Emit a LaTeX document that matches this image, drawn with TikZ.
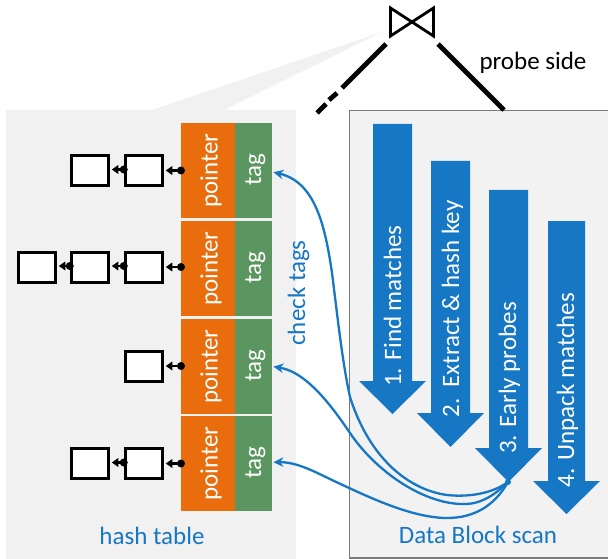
\documentclass[tikz,border=0pt]{standalone}
\usepackage{fontspec}
\setmainfont{Carlito}
\usetikzlibrary{arrows.meta}
\definecolor{panelgrey}{HTML}{F1F1F1}
\definecolor{scangrey}{HTML}{F2F2F2}
\definecolor{edgegrey}{HTML}{7A7A7A}
\definecolor{ptrorange}{HTML}{E96D0C}
\definecolor{taggreen}{HTML}{5B9660}
\definecolor{stepblue}{HTML}{1677C5}
\tikzset{
  txt/.style={font=\fontsize{25}{30}\selectfont, inner sep=0pt, anchor=base},
  whitetxt/.style={txt, text=white, rotate=90},
  bluetxt/.style={txt, text=stepblue},
  ptrcell/.style={rectangle, fill=ptrorange, minimum width=54pt, minimum height=95pt, inner sep=0pt, anchor=north west},
  tagcell/.style={rectangle, fill=taggreen, minimum width=37pt, minimum height=95pt, inner sep=0pt, anchor=north west},
  listbox/.style={rectangle, draw=black, fill=white, line width=3pt, minimum width=37.5pt, minimum height=30pt, inner sep=0pt},
  stepshaft/.style={fill=stepblue},
  link/.style={line width=2.2pt, -{Triangle[length=6.5pt,width=8.5pt]}},
  linkdot/.style={circle, fill=black, minimum size=8pt, inner sep=0pt},
  check/.style={draw=stepblue, line width=2.3pt, -{Stealth[length=10pt,width=9.5pt]}},
  joinleg/.style={line width=4.8pt}
}
\begin{document}
\begin{tikzpicture}[x=1pt,y=-1pt]
\useasboundingbox (0,0) rectangle (608,559);
% grey panels
\fill[panelgrey] (382,32) -- (224,110) -- (152,110) -- cycle;
\fill[panelgrey] (6,110) rectangle (296,559);
\filldraw[fill=scangrey, draw=edgegrey, line width=1.5pt] (609,110.5) -- (349.5,110.5) -- (349.5,558) -- (609,558);
% join
\draw[line width=2.8pt, line join=miter] (390.5,8) -- (433.5,36) -- (433.5,8) -- (390.5,36) -- cycle;
\node[txt, text=black] (probe) at (533,70) {probe side};
\draw[joinleg] (438,44) -- (504,110);
\draw[joinleg] (386,44) -- (342,88);
\draw[joinleg] (337,93) -- (329,100);
\draw[joinleg] (326,104) -- (317,113);
% table cells
\foreach \n/\y in {1/123,2/221,3/319,4/416}{
  \node[ptrcell] (ptr\n) at (181,\y) {};
  \node[tagcell] (tag\n) at (235,\y) {};
  \node[whitetxt] (ptrtxt\n) at (217.5,\y+47.5) {pointer};
  \node[whitetxt] (tagtxt\n) at (261,\y+47) {tag};
}
% list boxes
\node[listbox] (a1) at (144,170.5) {};
\node[listbox] (a2) at (90,170.5) {};
\node[listbox] (b1) at (144,267) {};
\node[listbox] (b2) at (90,267) {};
\node[listbox] (b3) at (37,267) {};
\node[listbox] (c1) at (144,366) {};
\node[listbox] (d1) at (144,463.5) {};
\node[listbox] (d2) at (90,463.5) {};
% links
\foreach \p/\q in {ptr1/a1,ptr2/b1,ptr3/c1,ptr4/d1}{
  \node[linkdot] (dot\q) at (\p.west |- \q.east) {};
  \draw[link] (dot\q.center) -- ([xshift=1.5pt]\q.east);
}
\foreach \p/\q in {a1/a2,b1/b2,b2/b3,d1/d2}{
  \node[linkdot] (dot\q) at ([yshift=1pt]\p.west) {};
  \draw[link] (dot\q.center) -- ([xshift=1.5pt,yshift=1pt]\q.east);
}
% step arrows
\fill[stepshaft] (373,124) -- (412,124) -- (412,381) -- (426,381) -- (392.5,414) -- (359,381) -- (373,381) -- cycle;
\fill[stepshaft] (431,161) -- (470,161) -- (470,413) -- (484,413) -- (450.5,447) -- (417,413) -- (431,413) -- cycle;
\fill[stepshaft] (489,190) -- (528,190) -- (528,448) -- (542,448) -- (508.5,482) -- (475,448) -- (489,448) -- cycle;
\fill[stepshaft] (548,221) -- (585,221) -- (585,481) -- (600,481) -- (566.5,514) -- (533,481) -- (548,481) -- cycle;
\node[whitetxt] (s1) at (401,306) {1. Find matches};
\node[whitetxt] (s2) at (459,309) {2.\ \ Extract \& hash key};
\node[whitetxt] (s3) at (516,378) {3. Early probes};
\node[whitetxt] (s4) at (574,390) {4. Unpack matches};
% check tag curves
\node[circle, fill=stepblue, minimum size=6pt, inner sep=0pt] (src) at (508,482) {};
\draw[check] (src.center) .. controls (490,495) and (465,497) .. (447,495)
  .. controls (410,490) and (370,460) .. (350,397)
  .. controls (342,360) and (338,320) .. (332,273)
  .. controls (325,225) and (315,182) .. ([xshift=1pt,yshift=-1.5pt]tag1.east);
\draw[check] (src.center) .. controls (490,500) and (475,505) .. (460,504)
  .. controls (420,502) and (375,470) .. (350,433)
  .. controls (335,411) and (308,372) .. ([xshift=1pt]tag3.east);
\draw[check] (src.center) .. controls (495,505) and (475,518) .. (447,518)
  .. controls (415,518) and (375,500) .. (347,487)
  .. controls (320,475) and (300,462) .. ([xshift=1pt,yshift=1.5pt]tag4.east);
% labels
\node[bluetxt, rotate=90] (checktags) at (305,293) {check tags};
\node[bluetxt] (hash) at (152,544) {hash table};
\node[bluetxt] (scan) at (478,543) {Data Block scan};
\end{tikzpicture}
\end{document}
